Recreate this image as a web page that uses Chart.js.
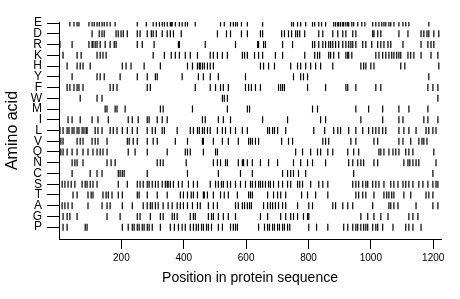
<!DOCTYPE html>
<html>
<head>
<meta charset="utf-8">
<script src="https://cdn.jsdelivr.net/npm/chart.js@4.4.0/dist/chart.umd.min.js"></script>
<style>
    html, body { margin: 0; padding: 0; background: #fff; }
    #grafico { display: block; }
</style>
</head>
<body>
<canvas id="grafico" width="460" height="299"></canvas>
<script>
// --- Dados: posições de cada aminoácido na sequência ---
const aminoAcids = ['E', 'D', 'R', 'K', 'H', 'Y', 'F', 'W', 'M', 'I', 'L', 'V', 'Q', 'N', 'C', 'S', 'T', 'A', 'G', 'P'];
const xTickValues = [200, 400, 600, 800, 1000, 1200];
const sequenceLength = 1225;

const posE = [35, 48, 58, 64, 96, 106, 113, 122, 129, 138, 145, 154, 164, 180, 251, 280, 302, 312, 322, 331, 338, 347, 357, 360, 363, 373, 386, 395, 405, 412, 437, 518, 530, 550, 559, 566, 572, 585, 604, 653, 746, 752, 765, 775, 791, 813, 820, 833, 842, 855, 881, 887, 894, 897, 903, 910, 913, 920, 926, 929, 939, 945, 958, 971, 981, 1006, 1016, 1026, 1035, 1042, 1048, 1058, 1064, 1074, 1090, 1103, 1112, 1122, 1186];
const posD = [106, 129, 138, 145, 183, 190, 199, 206, 219, 251, 260, 283, 296, 302, 312, 331, 347, 357, 367, 392, 508, 537, 550, 585, 604, 646, 653, 714, 723, 736, 746, 759, 765, 772, 788, 833, 846, 878, 894, 910, 920, 942, 952, 1006, 1010, 1022, 1032, 1090, 1119, 1161, 1170, 1180, 1186, 1202, 1218];
const posR = [3, 42, 96, 106, 109, 116, 122, 132, 148, 164, 177, 183, 251, 267, 305, 383, 386, 469, 566, 637, 640, 656, 662, 717, 749, 813, 820, 833, 846, 855, 865, 871, 878, 887, 897, 910, 920, 929, 936, 942, 952, 974, 984, 1003, 1022, 1032, 1042, 1055, 1064, 1103, 1161, 1183, 1193, 1202];
const posK = [13, 58, 71, 122, 132, 141, 151, 302, 338, 360, 373, 386, 405, 421, 444, 485, 495, 508, 524, 540, 588, 595, 604, 627, 640, 653, 694, 717, 788, 820, 829, 836, 865, 871, 881, 897, 920, 926, 929, 939, 1016, 1026, 1038, 1048, 1058, 1067, 1074, 1083, 1090, 1096, 1119, 1128, 1138, 1161, 1193, 1215];
const posH = [26, 58, 68, 77, 100, 203, 215, 231, 273, 325, 412, 428, 444, 450, 453, 460, 466, 476, 485, 495, 646, 656, 672, 691, 743, 765, 775, 791, 807, 823, 839, 878, 968, 977, 984, 1000, 1010, 1096, 1109, 1218];
const posY = [42, 122, 132, 145, 196, 251, 283, 309, 315, 395, 447, 463, 485, 511, 598, 752, 775, 784, 797, 1186];
const posF = [26, 35, 48, 58, 64, 77, 164, 174, 186, 283, 293, 437, 485, 502, 518, 527, 543, 598, 608, 617, 630, 646, 704, 711, 717, 723, 797, 855, 920, 926, 952, 1016, 1032, 1183, 1199, 1215];
const posW = [68, 122, 138, 524, 530, 540, 1215];
const posM = [148, 154, 180, 186, 212, 325, 334, 428, 540, 604, 611, 813, 829, 952, 993, 1038, 1090, 1122, 1183];
const posI = [29, 42, 68, 106, 125, 158, 222, 235, 254, 283, 289, 315, 331, 347, 460, 469, 511, 527, 550, 653, 733, 839, 855, 968, 1038, 1090, 1103, 1170, 1183, 1215];
const posL = [3, 13, 26, 32, 42, 48, 58, 64, 74, 80, 87, 90, 116, 125, 138, 164, 174, 186, 203, 219, 235, 251, 283, 299, 309, 331, 338, 379, 421, 431, 444, 450, 460, 466, 476, 485, 508, 524, 534, 550, 566, 588, 604, 669, 675, 685, 691, 701, 727, 817, 852, 881, 894, 903, 929, 952, 974, 993, 1006, 1016, 1026, 1038, 1048, 1090, 1106, 1122, 1145, 1177, 1186, 1199, 1209];
const posV = [6, 13, 58, 68, 77, 106, 116, 125, 154, 219, 225, 238, 251, 283, 302, 315, 373, 412, 460, 463, 495, 524, 543, 575, 608, 614, 620, 630, 640, 714, 736, 749, 846, 855, 865, 936, 952, 1010, 1022, 1090, 1103, 1128, 1154, 1164, 1170, 1180];
const posQ = [6, 13, 26, 42, 58, 77, 93, 109, 122, 132, 141, 154, 222, 244, 283, 347, 405, 412, 421, 463, 502, 508, 759, 781, 807, 829, 839, 862, 878, 926, 945, 961, 1026, 1032, 1042, 1058, 1071, 1080, 1090, 1112, 1122, 1135, 1202];
const posN = [42, 51, 58, 77, 154, 167, 180, 315, 325, 334, 408, 495, 508, 518, 534, 540, 575, 588, 592, 604, 620, 646, 672, 701, 752, 775, 797, 813, 855, 929, 942, 958, 968, 977, 1010, 1022, 1106, 1119, 1125, 1135, 1145, 1154, 1209];
const posC = [42, 100, 122, 138, 190, 196, 203, 209, 283, 412, 511, 582, 620, 717, 733, 743, 752, 768, 791, 945, 1199];
const posS = [10, 19, 29, 39, 51, 74, 84, 90, 100, 109, 122, 190, 219, 251, 260, 270, 283, 289, 299, 309, 318, 331, 341, 347, 350, 357, 367, 383, 395, 415, 431, 444, 485, 502, 511, 521, 527, 540, 550, 566, 582, 598, 614, 620, 630, 640, 646, 653, 662, 672, 678, 688, 704, 717, 733, 743, 765, 772, 781, 807, 833, 846, 862, 942, 952, 961, 974, 984, 990, 1006, 1016, 1026, 1042, 1064, 1074, 1087, 1103, 1112, 1122, 1135, 1154, 1167, 1183, 1199, 1209, 1215];
const posT = [45, 58, 93, 103, 109, 141, 151, 158, 170, 190, 203, 251, 257, 283, 315, 347, 389, 399, 412, 424, 431, 444, 463, 466, 476, 495, 518, 530, 543, 572, 608, 614, 620, 669, 688, 701, 711, 727, 778, 797, 823, 862, 952, 961, 974, 984, 1010, 1042, 1051, 1058, 1067, 1074, 1106, 1128, 1177, 1186, 1199];
const posA = [10, 19, 29, 42, 93, 138, 154, 164, 203, 235, 270, 283, 293, 299, 309, 318, 334, 350, 363, 379, 389, 399, 412, 428, 444, 453, 479, 495, 508, 566, 575, 588, 595, 604, 611, 617, 656, 669, 678, 685, 694, 704, 717, 727, 765, 801, 813, 878, 887, 910, 926, 942, 1006, 1058, 1064, 1074, 1087, 1145, 1199, 1215];
const posG = [13, 26, 35, 58, 154, 196, 251, 260, 293, 325, 334, 363, 370, 379, 421, 431, 437, 479, 489, 495, 511, 527, 543, 566, 646, 669, 711, 727, 743, 752, 765, 784, 797, 801, 968, 990, 1010, 1032, 1055, 1122, 1135, 1151];
const posP = [13, 26, 84, 90, 203, 222, 235, 241, 251, 257, 267, 273, 283, 289, 299, 325, 357, 370, 383, 395, 405, 421, 431, 440, 447, 457, 463, 473, 479, 489, 511, 524, 550, 559, 566, 572, 640, 659, 669, 675, 685, 691, 701, 707, 717, 723, 733, 740, 801, 826, 862, 913, 926, 942, 952, 958, 968, 977, 984, 990, 1006, 1016, 1022, 1038, 1071, 1112, 1122, 1135, 1161];

const positions = [posE, posD, posR, posK, posH, posY, posF, posW, posM, posI,
                   posL, posV, posQ, posN, posC, posS, posT, posA, posG, posP];

const canvas = document.getElementById('grafico');
const ctx = canvas.getContext('2d');
const FONT = "'Liberation Sans', Arial, Helvetica, sans-serif";
const nRows = aminoAcids.length;

// Uma linha por aminoácido: E no topo, P embaixo
const datasets = aminoAcids.map((aa, i) => ({
    label: aa,
    data: positions[i].map(p => ({ x: p, y: nRows - 1 - i })),
    pointStyle: 'line',
    rotation: 90,
    pointRadius: 3.5,
    pointBorderWidth: 1.2,
    borderColor: '#000',
    backgroundColor: '#000'
}));

const config = {
    type: 'scatter',
    data: { datasets: datasets },
    options: {
        responsive: false,
        animation: false,
        devicePixelRatio: 1,
        layout: { padding: { top: 22, right: 19, left: 0, bottom: 0 } },
        plugins: {
            legend: { display: false },
            tooltip: { enabled: false }
        },
        scales: {
            x: {
                type: 'linear',
                position: 'bottom',
                min: 0,
                max: sequenceLength,
                afterFit: s => { s.height = 60; },
                afterBuildTicks: s => { s.ticks = xTickValues.map(v => ({ value: v })); },
                border: { color: '#000', width: 1 },
                grid: { drawOnChartArea: false, drawTicks: true, tickLength: 10, color: '#000' },
                ticks: {
                    color: '#000',
                    font: { family: FONT, size: 10 },
                    padding: 3,
                    maxRotation: 0,
                    autoSkip: false,
                    callback: v => String(v)  // sem separador de milhar
                },
                title: {
                    display: true,
                    text: 'Position in protein sequence',
                    color: '#000',
                    font: { family: FONT, size: 14 },
                    padding: { top: 0, bottom: 12 }
                }
            },
            y: {
                type: 'linear',
                min: -1.1,
                max: 19.1,
                afterFit: s => { s.width = 59; },
                afterBuildTicks: s => { s.ticks = aminoAcids.map((a, i) => ({ value: nRows - 1 - i })); },
                border: { color: '#000', width: 1 },
                grid: { drawOnChartArea: false, drawTicks: true, tickLength: 12, color: '#000' },
                ticks: {
                    color: '#000',
                    font: { family: FONT, size: 12 },
                    padding: 5,
                    autoSkip: false,
                    callback: v => aminoAcids[nRows - 1 - v]
                },
                title: {
                    display: true,
                    text: 'Amino acid',
                    color: '#000',
                    font: { family: FONT, size: 16 },
                    padding: { top: 3, bottom: 0 }
                }
            }
        }
    }
};

window.myChart = new Chart(ctx, config);
</script>
</body>
</html>
